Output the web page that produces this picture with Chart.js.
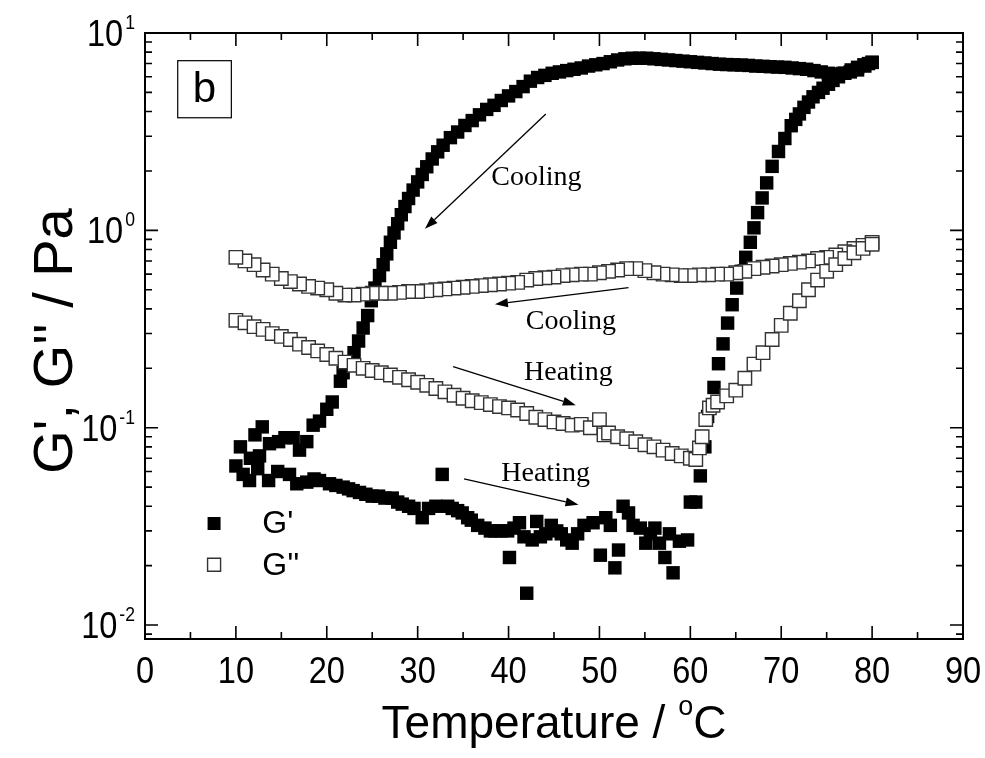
<!DOCTYPE html>
<html>
<head>
<meta charset="utf-8">
<script src="https://cdn.jsdelivr.net/npm/chart.js@4.4.1/dist/chart.umd.min.js"></script>
<style>
  html, body { margin: 0; padding: 0; background: #fff; }
</style>
</head>
<body>
<canvas id="chart" width="985" height="758"></canvas>
<script>
// G' cooling run (80 -> 10 C)
var gpCoolT = [80.0,79.2,78.4,77.6,76.8,76.0,75.2,74.4,73.6,72.8,72.0,71.2,70.4,69.6,68.8,68.0,67.2,66.4,65.6,64.8,64.0,63.2,62.4,61.6,60.8,60.0,59.2,58.4,57.6,56.8,56.0,55.2,54.4,53.6,52.8,52.0,51.2,50.4,49.6,48.8,48.0,47.2,46.4,45.6,44.8,44.0,43.2,42.4,41.6,40.8,40.0,39.2,38.4,37.6,36.8,36.0,35.2,34.4,33.6,32.8,32.2,31.6,31.0,30.5,30.0,29.5,29.0,28.6,28.2,27.8,27.4,27.0,26.6,26.2,25.8,25.3,24.9,24.5,24.0,23.5,23.0,21.8,21.5,20.6,20.0,19.2,18.5,17.8,17.0,16.3,15.4,14.7,13.7,12.9,12.1,12.6,11.6,10.5];
var gpCoolV = [7.1,6.8,6.5,6.35,6.25,6.2,6.25,6.35,6.45,6.55,6.6,6.65,6.7,6.72,6.75,6.78,6.8,6.85,6.88,6.9,6.92,6.95,7.0,7.05,7.1,7.15,7.2,7.25,7.3,7.35,7.4,7.45,7.45,7.45,7.4,7.3,7.15,7.0,6.9,6.8,6.65,6.55,6.45,6.35,6.25,6.1,5.95,5.7,5.35,5.05,4.8,4.55,4.3,4.1,3.85,3.6,3.4,3.15,2.95,2.7,2.5,2.3,2.1,1.92,1.76,1.6,1.45,1.32,1.2,1.08,0.97,0.87,0.76,0.67,0.59,0.51,0.44,0.37,0.32,0.275,0.24,0.19,0.172,0.135,0.124,0.108,0.103,0.085,0.077,0.089,0.089,0.085,0.083,0.101,0.092,0.072,0.070,0.080];

// G' heating run (10 -> 80 C)
var gpHeatT = [10.0,10.8,11.5,12.4,13.6,14.6,15.9,16.7,17.8,18.6,19.2,20.3,21.0,21.8,22.4,22.9,23.6,24.3,25.0,25.7,26.4,27.2,27.8,28.3,29.0,29.6,30.5,31.2,32.0,32.7,33.3,33.8,34.4,34.9,35.5,35.9,36.6,37.4,38.0,38.5,39.2,39.9,40.1,40.6,41.2,41.7,42.0,42.6,43.1,43.5,44.1,44.7,45.3,45.8,46.4,47.0,47.6,48.3,49.3,50.1,50.7,51.2,51.7,52.1,52.6,53.2,53.7,54.5,55.1,55.6,56.1,56.6,57.2,57.7,58.1,58.8,59.7,60.0,60.6,61.1,61.6,61.9,62.6,63.1,63.6,64.1,64.6,65.1,65.6,66.1,66.6,67.0,67.4,67.9,68.4,69.0,69.7,70.4,71.1,71.6,72.0,72.5,73.0,73.5,74.1,74.6,75.2,75.7,76.3,77.0,77.7,78.4,79.1,79.6,80.0];
var gpHeatV = [0.064,0.058,0.054,0.062,0.054,0.060,0.058,0.052,0.053,0.055,0.054,0.052,0.051,0.050,0.049,0.048,0.047,0.046,0.045,0.045,0.044,0.044,0.042,0.041,0.040,0.039,0.035,0.039,0.040,0.058,0.040,0.039,0.038,0.037,0.035,0.034,0.032,0.031,0.030,0.030,0.030,0.030,0.022,0.031,0.033,0.028,0.0145,0.027,0.0335,0.028,0.029,0.032,0.030,0.029,0.027,0.026,0.029,0.032,0.033,0.0226,0.035,0.032,0.0195,0.024,0.040,0.037,0.032,0.031,0.026,0.029,0.031,0.026,0.022,0.029,0.0184,0.0266,0.027,0.042,0.042,0.057,0.080,0.114,0.160,0.211,0.266,0.339,0.42,0.51,0.62,0.73,0.87,1.03,1.23,1.46,1.74,2.11,2.51,2.92,3.39,3.65,3.89,4.2,4.47,4.75,5.0,5.25,5.5,5.75,6.0,6.25,6.5,6.7,6.9,7.0,7.1];

// G'' cooling run (80 -> 10 C)
var gppCoolT = [80,79,78,77,76,75,74,73,72,71,70,69,68,67,66,65,64,63,62,61,60,59,58,57,56,55,54,53,52,51,50,49,48,47,46,45,44,43,42,41,40,39,38,37,36,35,34,33,32,31,30,29,28,27,26,25,24,23,22,21,20,19,18,17,16,15,14,13,12,11,10];
var gppCoolV = [0.87,0.84,0.81,0.78,0.75,0.73,0.72,0.70,0.69,0.68,0.67,0.66,0.65,0.64,0.62,0.61,0.60,0.60,0.595,0.595,0.59,0.59,0.595,0.60,0.61,0.625,0.64,0.64,0.63,0.62,0.61,0.60,0.60,0.595,0.59,0.58,0.575,0.57,0.56,0.545,0.54,0.535,0.53,0.525,0.52,0.515,0.51,0.505,0.50,0.495,0.49,0.49,0.485,0.48,0.48,0.48,0.475,0.47,0.47,0.48,0.50,0.51,0.52,0.535,0.55,0.57,0.60,0.63,0.67,0.70,0.73];

// G'' heating run (10 -> 80 C)
var gppHeatT = [10,11,12,13,14,15,16,17,18,19,20,21,22,23,24,25,26,27,28,29,30,31,32,33,34,35,36,37,38,39,40,41,42,43,44,45,46,47,48,49,50,50.5,51,52,53,54,55,56,57,58,59,60,60.6,61.0,61.3,61.7,62.1,62.5,63.0,64.0,65.0,66.0,67.0,68.0,69.0,70.0,71.0,72.0,73.0,74.0,75.0,76.0,77.0,78.0,79.0,80.0];
var gppHeatV = [0.35,0.34,0.325,0.315,0.30,0.29,0.28,0.265,0.255,0.245,0.235,0.225,0.215,0.207,0.200,0.195,0.19,0.185,0.18,0.175,0.17,0.164,0.158,0.152,0.146,0.141,0.137,0.134,0.131,0.128,0.126,0.123,0.118,0.113,0.110,0.107,0.105,0.103,0.104,0.100,0.110,0.092,0.094,0.090,0.088,0.085,0.082,0.080,0.077,0.074,0.072,0.070,0.069,0.079,0.090,0.110,0.126,0.130,0.135,0.145,0.155,0.178,0.21,0.24,0.28,0.33,0.38,0.44,0.50,0.56,0.62,0.67,0.72,0.77,0.81,0.85];

// axis ticks
var xMajor = [0,10,20,30,40,50,60,70,80,90];
var yMajor = [0.01,0.1,1,10];
var yExp = ['-2','-1','0','1'];

// text annotations in data coordinates
var notes = [
  {text:'Cooling', x:38.1, y:1.70, from:[44.1,3.89], to:[30.8,1.02]},
  {text:'Cooling', x:41.9, y:0.316, from:[53.2,0.513], to:[38.5,0.422]},
  {text:'Heating', x:41.7, y:0.174, from:[33.9,0.204], to:[47.4,0.130]},
  {text:'Heating', x:39.2, y:0.0537, from:[35.1,0.055], to:[47.7,0.0407]}
];

var SANS = '"Liberation Sans", Arial, sans-serif';

function pts(xs, ys) {
  return xs.map(function (x, i) { return {x: x, y: ys[i]}; });
}

function condText(ctx, s, x, y, sx) {
  ctx.save();
  ctx.translate(x, y);
  ctx.scale(sx, 1);
  ctx.fillText(s, 0, 0);
  ctx.restore();
}

function square(ctx, x, y, filled) {
  ctx.beginPath();
  ctx.rect(x - 6.5, y - 6.5, 13, 13);
  if (filled) { ctx.fillStyle = '#000'; ctx.fill(); }
  else { ctx.fillStyle = '#fff'; ctx.fill(); ctx.lineWidth = 1.4; ctx.strokeStyle = '#333'; ctx.stroke(); }
}

function arrow(ctx, x1, y1, x2, y2) {
  var a = Math.atan2(y2 - y1, x2 - x1), L = 13, W = 4.5;
  var bx = x2 - L * Math.cos(a), by = y2 - L * Math.sin(a);
  ctx.strokeStyle = '#000'; ctx.lineWidth = 1.3;
  ctx.beginPath(); ctx.moveTo(x1, y1); ctx.lineTo(bx, by); ctx.stroke();
  ctx.fillStyle = '#000';
  ctx.beginPath();
  ctx.moveTo(x2, y2);
  ctx.lineTo(bx + W * Math.sin(a), by - W * Math.cos(a));
  ctx.lineTo(bx - W * Math.sin(a), by + W * Math.cos(a));
  ctx.closePath(); ctx.fill();
}

var framePlugin = {
  id: 'frame',
  afterDatasetsDraw: function (chart) {
    var ctx = chart.ctx, a = chart.chartArea, xs = chart.scales.x, ys = chart.scales.y;
    ctx.save();
    // box
    ctx.strokeStyle = '#000'; ctx.lineWidth = 2;
    ctx.strokeRect(a.left, a.top, a.right - a.left, a.bottom - a.top);
    ctx.lineWidth = 1.6;
    ctx.beginPath();
    // x ticks (inward, top and bottom)
    xs.ticks.forEach(function (t) {
      var px = xs.getPixelForValue(t.value);
      ctx.moveTo(px, a.bottom); ctx.lineTo(px, a.bottom - 13);
      ctx.moveTo(px, a.top); ctx.lineTo(px, a.top + 13);
      if (t.value < 90) {
        var pm = xs.getPixelForValue(t.value + 5);
        ctx.moveTo(pm, a.bottom); ctx.lineTo(pm, a.bottom - 7);
        ctx.moveTo(pm, a.top); ctx.lineTo(pm, a.top + 7);
      }
    });
    // y ticks (inward, left and right)
    yMajor.forEach(function (v) {
      var py = ys.getPixelForValue(v);
      ctx.moveTo(a.left, py); ctx.lineTo(a.left + 13, py);
      ctx.moveTo(a.right, py); ctx.lineTo(a.right - 13, py);
      for (var k = 2; k <= 9; k++) {
        var m = v * k;
        if (m >= ys.max) break;
        var pm = ys.getPixelForValue(m);
        ctx.moveTo(a.left, pm); ctx.lineTo(a.left + 7, pm);
        ctx.moveTo(a.right, pm); ctx.lineTo(a.right - 7, pm);
      }
    });
    var m0 = ys.getPixelForValue(0.009);
    ctx.moveTo(a.left, m0); ctx.lineTo(a.left + 7, m0);
    ctx.moveTo(a.right, m0); ctx.lineTo(a.right - 7, m0);
    ctx.stroke();

    // x tick labels
    ctx.fillStyle = '#000';
    ctx.font = '37px ' + SANS;
    ctx.textAlign = 'center'; ctx.textBaseline = 'alphabetic';
    xs.ticks.forEach(function (t) {
      condText(ctx, String(t.value), xs.getPixelForValue(t.value), a.bottom + 44, 0.88);
    });

    // y tick labels: 10 with superscript exponent
    yMajor.forEach(function (v, i) {
      var py = ys.getPixelForValue(v);
      ctx.textAlign = 'right';
      ctx.font = '20px ' + SANS;
      var ew = ctx.measureText(yExp[i]).width * 0.88;
      condText(ctx, yExp[i], a.left - 10, py - 4, 0.88);
      ctx.font = '37px ' + SANS;
      condText(ctx, '10', a.left - 12 - ew, py + 13, 0.88);
    });

    // axis titles
    ctx.textAlign = 'left';
    var t1 = 'Temperature / ', t2 = 'C';
    ctx.font = '46px ' + SANS;
    var w1 = ctx.measureText(t1).width, w2 = ctx.measureText(t2).width;
    ctx.font = '27px ' + SANS;
    var wo = ctx.measureText('o').width;
    var cx = (a.left + a.right) / 2, x0 = cx - (w1 + wo + w2) / 2, by = 738;
    ctx.font = '46px ' + SANS;
    ctx.fillText(t1, x0, by);
    ctx.fillText(t2, x0 + w1 + wo, by);
    ctx.font = '27px ' + SANS;
    ctx.fillText('o', x0 + w1, by - 23);

    ctx.save();
    ctx.translate(72, 341);
    ctx.rotate(-Math.PI / 2);
    ctx.textAlign = 'center';
    ctx.font = '56px ' + SANS;
    ctx.fillText('G\', G\'\' / Pa', 0, 0);
    ctx.restore();

    // panel label
    var bx0 = xs.getPixelForValue(3.6), bx1 = xs.getPixelForValue(9.5);
    var by0 = ys.getPixelForValue(7.24), by1 = ys.getPixelForValue(3.72);
    ctx.lineWidth = 1.2; ctx.strokeStyle = '#000';
    ctx.strokeRect(bx0, by0, bx1 - bx0, by1 - by0);
    ctx.font = '42px ' + SANS;
    ctx.textAlign = 'center'; ctx.textBaseline = 'middle';
    ctx.fillText('b', (bx0 + bx1) / 2, (by0 + by1) / 2 + 1);

    // annotations
    ctx.font = '28px "Liberation Serif", "Times New Roman", serif';
    ctx.textAlign = 'left'; ctx.textBaseline = 'alphabetic';
    notes.forEach(function (n) {
      ctx.fillStyle = '#000';
      ctx.fillText(n.text, xs.getPixelForValue(n.x), ys.getPixelForValue(n.y));
      arrow(ctx, xs.getPixelForValue(n.from[0]), ys.getPixelForValue(n.from[1]),
                 xs.getPixelForValue(n.to[0]), ys.getPixelForValue(n.to[1]));
    });

    // legend
    var lx = xs.getPixelForValue(7.6);
    var l1 = ys.getPixelForValue(0.0327), l2 = ys.getPixelForValue(0.0202);
    square(ctx, lx, l1, true);
    square(ctx, lx, l2, false);
    ctx.fillStyle = '#000';
    ctx.font = '32px ' + SANS;
    ctx.textAlign = 'left'; ctx.textBaseline = 'middle';
    ctx.fillText('G\'', xs.getPixelForValue(12.9), l1 + 1);
    ctx.fillText('G\'\'', xs.getPixelForValue(12.9), l2 + 1);
    ctx.restore();
  }
};

var openStyle = {pointStyle: 'rect', radius: 9.5, backgroundColor: '#fff', borderColor: '#333', borderWidth: 1.4};
var fillStyle = {pointStyle: 'rect', radius: 9.5, backgroundColor: '#000', borderColor: '#000', borderWidth: 0};

new Chart(document.getElementById('chart'), {
  type: 'scatter',
  data: {
    datasets: [
      {label: "G'' heating", data: pts(gppHeatT, gppHeatV), order: 1},
      {label: "G'' cooling", data: pts(gppCoolT, gppCoolV), order: 2},
      {label: "G' heating", data: pts(gpHeatT, gpHeatV), order: 3},
      {label: "G' cooling", data: pts(gpCoolT, gpCoolV), order: 4}
    ].map(function (d, i) {
      var s = i < 2 ? openStyle : fillStyle;
      return Object.assign({}, d, {
        pointStyle: s.pointStyle, pointRadius: s.radius, pointHoverRadius: s.radius,
        pointBackgroundColor: s.backgroundColor, pointBorderColor: s.borderColor,
        pointBorderWidth: s.borderWidth, showLine: false
      });
    })
  },
  options: {
    responsive: false,
    animation: false,
    devicePixelRatio: 1,
    layout: {padding: {left: 137, right: 22, top: 33, bottom: 111}},
    plugins: {legend: {display: false}, tooltip: {enabled: false}},
    scales: {
      x: {type: 'linear', min: 0, max: 90, ticks: {stepSize: 10, display: false},
          grid: {display: false}, border: {display: false}},
      y: {type: 'logarithmic', min: 0.0085, max: 10, ticks: {display: false},
          grid: {display: false}, border: {display: false}}
    }
  },
  plugins: [framePlugin]
});
</script>
</body>
</html>
